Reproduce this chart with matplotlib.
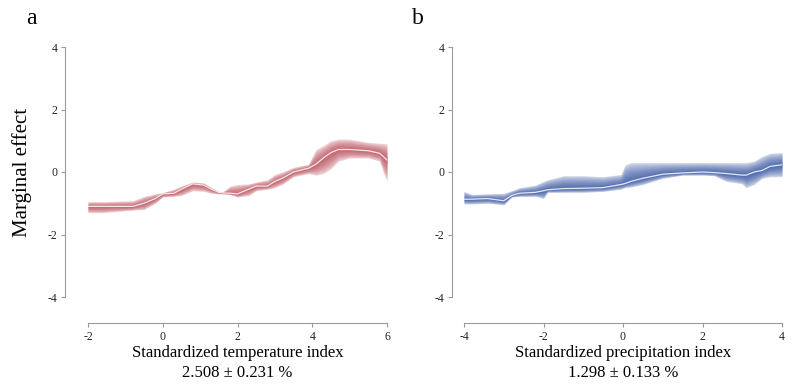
import numpy as np
import matplotlib
matplotlib.use("Agg")
import matplotlib.pyplot as plt

# %% data
# panel a: temperature
temp_x = [-2, -1.6, -0.8, -0.5, -0.2, 0, 0.3, 0.5, 0.8, 1.1, 1.3, 1.5, 1.6, 1.8, 2,
          2.3, 2.5, 2.8, 3, 3.2, 3.5, 3.9, 4.1, 4.3, 4.5, 4.7, 5, 5.5, 5.8, 5.9, 6]
temp_mid = [-1.1, -1.1, -1.1, -1.0, -0.85, -0.7, -0.68, -0.55, -0.38, -0.42, -0.55, -0.65,
            -0.67, -0.68, -0.7, -0.55, -0.45, -0.45, -0.3, -0.2, 0.0, 0.12, 0.25, 0.45,
            0.62, 0.72, 0.72, 0.68, 0.6, 0.5, 0.38]
temp_hi = [-0.95, -0.95, -0.92, -0.78, -0.7, -0.66, -0.55, -0.45, -0.32, -0.35, -0.5, -0.62,
           -0.64, -0.45, -0.4, -0.38, -0.32, -0.25, -0.08, 0.0, 0.15, 0.25, 0.72, 0.85,
           1.0, 1.05, 1.05, 0.95, 0.92, 0.92, 0.9]
temp_lo = [-1.3, -1.3, -1.22, -1.2, -1.0, -0.8, -0.78, -0.75, -0.6, -0.62, -0.68, -0.7,
           -0.7, -0.72, -0.8, -0.75, -0.6, -0.55, -0.5, -0.4, -0.15, -0.05, -0.1, -0.05,
           0.1, 0.35, 0.45, 0.45, 0.35, 0.0, -0.3]

# panel b: precipitation
prec_x = [-4, -3.8, -3.4, -3.0, -2.8, -2.6, -2.2, -2.0, -1.9, -1.5, -1.0, -0.5, -0.05, 0.05,
          0.2, 0.5, 1.0, 1.5, 2.0, 2.3, 2.6, 3.0, 3.1, 3.3, 3.5, 3.7, 4.0]
prec_mid = [-0.87, -0.87, -0.85, -0.92, -0.75, -0.68, -0.65, -0.6, -0.57, -0.53, -0.52, -0.5,
            -0.4, -0.37, -0.3, -0.2, -0.07, -0.03, 0.0, -0.02, -0.05, -0.1, -0.1, 0.0,
            0.05, 0.18, 0.23]
prec_hi = [-0.62, -0.72, -0.7, -0.68, -0.6, -0.5, -0.42, -0.3, -0.25, -0.12, -0.12, -0.15,
           -0.08, 0.22, 0.3, 0.3, 0.3, 0.3, 0.3, 0.3, 0.3, 0.3, 0.3, 0.35, 0.5, 0.6, 0.62]
prec_lo = [-1.02, -1.02, -1.0, -1.05, -0.8, -0.78, -0.78, -0.85, -0.65, -0.65, -0.65, -0.62,
           -0.55, -0.5, -0.48, -0.4, -0.2, -0.1, -0.1, -0.12, -0.3, -0.38, -0.5, -0.4,
           -0.2, -0.15, -0.15]

yticks = [-4, -2, 0, 2, 4]
temp_ticks = [-2, 0, 2, 4, 6]
prec_ticks = [-4, -2, 0, 2, 4]

plt.rcParams['font.family'] = ['Liberation Serif', 'DejaVu Serif']

fig = plt.figure(figsize=(8, 3.92), dpi=100)
W, H = 800, 392


def px_axes(x0, x1, y_top, y_bot):
    return fig.add_axes([x0 / W, (H - y_bot) / H, (x1 - x0) / W, (y_bot - y_top) / H])


def fan(ax, x, mid, lo, hi, color, line_color, n=18, alpha=0.062):
    x = np.asarray(x); mid = np.asarray(mid)
    lo = np.asarray(lo); hi = np.asarray(hi)
    # pale outer envelope, then a soft gradient toward the median
    ax.fill_between(x, lo, hi, color=color, alpha=0.16, lw=0)
    for f in np.linspace(1, 0.08, n):
        ax.fill_between(x, mid - f * (mid - lo), mid + f * (hi - mid),
                        color=color, alpha=alpha, lw=0)
    ax.plot(x, mid, color=line_color, lw=0.9)


def style(ax, xt, left_off, xlab, sub):
    ax.set_ylim(-4, 4)
    ax.set_yticks(yticks)
    ax.set_xticks(xt)
    ax.set_xlim(xt[0], xt[-1])
    for s in ['top', 'right']:
        ax.spines[s].set_visible(False)
    ax.spines['left'].set_position(('outward', left_off * 0.72))
    ax.spines['bottom'].set_position(('outward', 26 * 0.72))
    ax.spines['left'].set_bounds(-4, 4)
    ax.spines['bottom'].set_bounds(xt[0], xt[-1])
    for s in ['left', 'bottom']:
        ax.spines[s].set_color('#9a9a9a')
        ax.spines[s].set_linewidth(0.8)
    ax.tick_params(direction='out', length=3, width=0.8, color='#9a9a9a',
                   labelsize=8.5, pad=2.5, labelcolor='#222222')
    ax.set_xticklabels([str(t) for t in xt])
    ax.set_yticklabels([str(t) for t in yticks])
    ax.patch.set_visible(False)
    ax.text(0.5, -0.225, xlab, transform=ax.transAxes, ha='center', va='center',
            fontsize=12)
    ax.text(0.5, -0.305, sub, transform=ax.transAxes, ha='center', va='center',
            fontsize=12)


ax1 = px_axes(88, 387, 47, 297)
fan(ax1, temp_x, temp_mid, temp_lo, temp_hi, '#b7404c', '#f8e6e6')
style(ax1, temp_ticks, 23, 'Standardized temperature index', '2.508 \u00b1 0.231 %')
ax1.set_ylabel('Marginal effect', fontsize=15, labelpad=11)

ax2 = px_axes(464, 782, 47, 297)
fan(ax2, prec_x, prec_mid, prec_lo, prec_hi, '#22449a', '#e2e8f6')
style(ax2, prec_ticks, 12, 'Standardized precipitation index', '1.298 \u00b1 0.133 %')

fig.text(31 / W, 1 - 18 / H, 'a', fontsize=17, ha='center', va='center')
fig.text(418 / W, 1 - 18 / H, 'b', fontsize=17, ha='center', va='center')

fig.savefig('out.png', dpi=100)
